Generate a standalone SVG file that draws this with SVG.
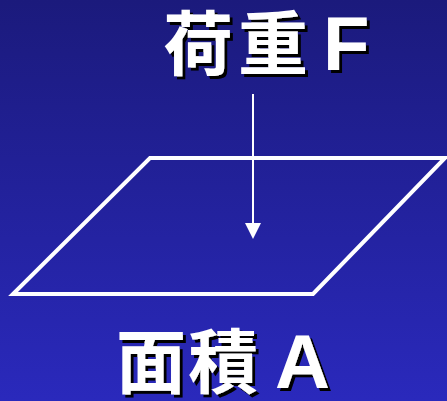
<svg xmlns="http://www.w3.org/2000/svg" width="447" height="401" viewBox="0 0 447 401">
<defs>
<linearGradient id="bg" x1="0" y1="0" x2="0" y2="1">
<stop offset="0" stop-color="#1b1a7c"/>
<stop offset="1" stop-color="#2a29bc"/>
</linearGradient>
<filter id="shadow" x="-10%" y="-10%" width="130%" height="130%">
<feDropShadow dx="3" dy="3" stdDeviation="0" flood-color="#000000" flood-opacity="1"/>
</filter>
</defs>
<style>
.lbl{font-family:"Noto Sans CJK JP",sans-serif;font-weight:bold;font-size:70px;fill:#ffffff;}
.lat{font-family:"Liberation Sans",Arial,sans-serif;font-weight:bold;font-size:76px;}
</style>
<rect width="447" height="401" fill="url(#bg)"/>
<g id="plane">
<polygon points="150,158 445,158 313,294 13,294" fill="none" stroke="#ffffff" stroke-width="4" stroke-linejoin="miter"/>
</g>
<g id="connectors">
<line x1="253" y1="94" x2="253" y2="224" stroke="#ffffff" stroke-width="2"/>
<path d="M245,223 L261,223 L253,239 Z" fill="#ffffff"/>
</g>
<g id="load" filter="url(#shadow)">
<text class="lbl" y="70"><tspan x="163">荷</tspan><tspan x="238">重</tspan><tspan class="lat" x="323">F</tspan></text>
</g>
<g id="area" filter="url(#shadow)">
<text class="lbl" y="388"><tspan x="116">面</tspan><tspan x="188">積</tspan><tspan class="lat" x="275">A</tspan></text>
</g>
</svg>
